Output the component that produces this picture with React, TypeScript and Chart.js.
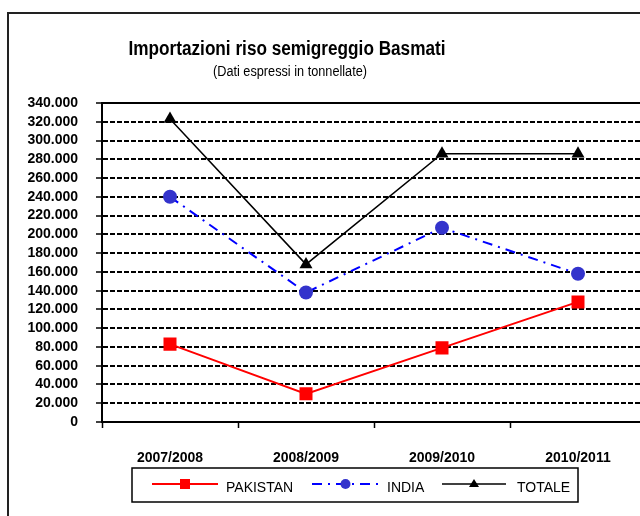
import React, { useEffect, useRef } from "react";
import { Chart, registerables } from "chart.js";

Chart.register(...registerables);

const categories = ["2007/2008", "2008/2009", "2009/2010", "2010/2011"];
const pakistan = [83000, 30000, 79000, 128000];
const india = [240000, 138000, 207000, 158000];
const totale = [323000, 168000, 286000, 286000];
const seriesNames = ["PAKISTAN", "INDIA", "TOTALE"];
const titleText = "Importazioni riso semigreggio Basmati";
const subtitleText = "(Dati espressi in tonnellate)";
const yMin = 0;
const yMax = 340000;
const yStep = 20000;

const FONT = "'Liberation Sans', Arial, sans-serif";

const fmt = (v: number) =>
  String(Math.round(v)).replace(/\B(?=(\d{3})+(?!\d))/g, ".");

function fitText(ctx: any, text: string, font: string, cx: number, cy: number, targetW: number) {
  ctx.save();
  ctx.font = font;
  const w = ctx.measureText(text).width;
  const s = targetW / w;
  ctx.translate(cx, cy);
  ctx.scale(s, 1);
  ctx.textAlign = "center";
  ctx.textBaseline = "middle";
  ctx.fillText(text, 0, 0);
  ctx.restore();
}

const framePlugin = {
  id: "frame",
  beforeDraw(chart: any) {
    const { ctx } = chart;
    ctx.save();
    ctx.fillStyle = "#ffffff";
    ctx.fillRect(0, 0, chart.width, chart.height);
    ctx.strokeStyle = "#222";
    ctx.lineWidth = 2;
    ctx.strokeRect(8, 13, 720, 600);
    ctx.fillStyle = "#000";
    fitText(ctx, titleText, `bold 20px ${FONT}`, 287, 49, 317);
    fitText(ctx, subtitleText, `14px ${FONT}`, 290, 72, 154);
    ctx.restore();
  },
  beforeDatasetsDraw(chart: any) {
    const { ctx, chartArea } = chart;
    ctx.save();
    ctx.strokeStyle = "#000";
    ctx.lineWidth = 2;
    ctx.beginPath();
    ctx.moveTo(chartArea.left, chartArea.top);
    ctx.lineTo(chartArea.right, chartArea.top);
    ctx.stroke();
    ctx.restore();
  },
  afterDraw(chart: any) {
    const { ctx } = chart;
    ctx.save();
    ctx.strokeStyle = "#000";
    ctx.lineWidth = 1.5;
    ctx.strokeRect(132, 468, 446, 34);
    const items = [
      { x1: 152, x2: 218, tx: 226 },
      { x1: 312, x2: 379, tx: 387 },
      { x1: 442, x2: 506, tx: 517 },
    ];
    const y = 484;
    chart.data.datasets.forEach((ds: any, i: number) => {
      const it = items[i];
      ctx.save();
      ctx.strokeStyle = ds.borderColor;
      ctx.lineWidth = ds.borderWidth;
      ctx.setLineDash(ds.borderDash || []);
      ctx.beginPath();
      ctx.moveTo(it.x1, y);
      ctx.lineTo(it.x2, y);
      ctx.stroke();
      ctx.restore();
      const cx = (it.x1 + it.x2) / 2;
      ctx.fillStyle = ds.pointBackgroundColor;
      ctx.beginPath();
      if (ds.pointStyle === "rect") {
        ctx.rect(cx - 5, y - 5, 10, 10);
      } else if (ds.pointStyle === "circle") {
        ctx.arc(cx, y, 5, 0, Math.PI * 2);
      } else {
        ctx.moveTo(cx, y - 5);
        ctx.lineTo(cx + 5, y + 3);
        ctx.lineTo(cx - 5, y + 3);
        ctx.closePath();
      }
      ctx.fill();
      ctx.fillStyle = "#000";
      ctx.font = `14px ${FONT}`;
      ctx.textAlign = "left";
      ctx.textBaseline = "middle";
      ctx.fillText(seriesNames[i], it.tx, y + 4);
    });
    ctx.restore();
  },
};

export default function App() {
  const ref = useRef<HTMLCanvasElement | null>(null);
  useEffect(() => {
    if (!ref.current) return;
    const chart = new Chart(ref.current, {
      type: "line",
      data: {
        labels: categories,
        datasets: [
          {
            label: seriesNames[0],
            data: pakistan,
            borderColor: "#ff0000",
            borderWidth: 2,
            pointStyle: "rect",
            pointRadius: 9.2,
            pointBackgroundColor: "#ff0000",
            pointBorderWidth: 0,
            pointBorderColor: "#ff0000",
          },
          {
            label: seriesNames[1],
            data: india,
            borderColor: "#0000ff",
            borderWidth: 2,
            borderDash: [10, 6, 2, 6],
            pointStyle: "circle",
            pointRadius: 7,
            pointBackgroundColor: "#3333cc",
            pointBorderWidth: 0,
            pointBorderColor: "#3333cc",
          },
          {
            label: seriesNames[2],
            data: totale,
            borderColor: "#000000",
            borderWidth: 1.5,
            pointStyle: "triangle",
            pointRadius: 7.5,
            pointBackgroundColor: "#000000",
            pointBorderWidth: 0,
            pointBorderColor: "#000000",
          },
        ],
      } as any,
      options: {
        animation: false,
        responsive: true,
        maintainAspectRatio: false,
        layout: { padding: { top: 103, left: 0, right: 14, bottom: 52 } },
        plugins: {
          legend: { display: false },
          title: { display: false },
          tooltip: { enabled: false },
        },
        scales: {
          x: {
            type: "category",
            offset: true,
            afterFit: (s: any) => {
              s.height = 42;
            },
            grid: {
              display: true,
              drawOnChartArea: false,
              drawTicks: true,
              offset: true,
              tickLength: 6,
              tickColor: "#000",
              tickWidth: 1.5,
            },
            border: { display: true, color: "#000", width: 2 },
            ticks: {
              color: "#000",
              padding: 22,
              maxRotation: 0,
              autoSkip: false,
              font: { family: FONT, size: 14, weight: "bold" },
            },
          },
          y: {
            min: yMin,
            max: yMax,
            afterFit: (s: any) => {
              s.width = 102;
            },
            grid: {
              color: (c: any) =>
                c.tick && c.tick.value === yMax ? "rgba(0,0,0,0)" : "#000",
              lineWidth: 2,
              drawTicks: true,
              tickLength: 6,
              tickColor: "#000",
              tickWidth: 1.5,
              tickBorderDash: [],
            },
            border: { display: true, color: "#000", width: 2, dash: [5, 2] },
            ticks: {
              stepSize: yStep,
              autoSkip: false,
              color: "#000",
              padding: 18,
              font: { family: FONT, size: 14, weight: "bold" },
              callback: (v: any) => fmt(Number(v)),
            },
          },
        },
      } as any,
      plugins: [framePlugin],
    });
    return () => chart.destroy();
  }, []);
  return (
    <div
      style={{
        position: "absolute",
        left: 0,
        top: 0,
        width: 640,
        height: 516,
        overflow: "hidden",
      }}
    >
      <div style={{ position: "relative", width: 660, height: 516 }}>
        <canvas ref={ref} />
      </div>
    </div>
  );
}
